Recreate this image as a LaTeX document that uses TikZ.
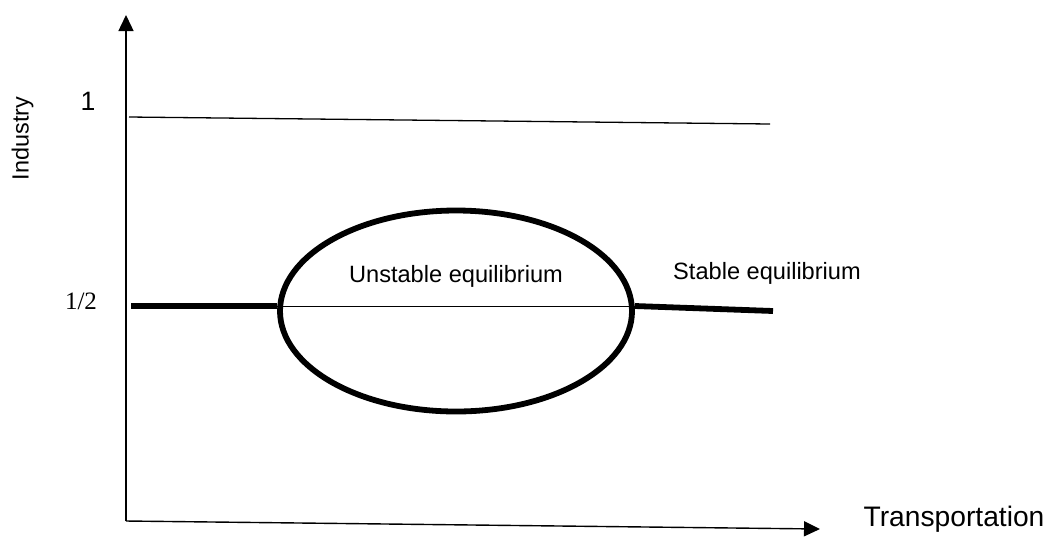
\documentclass[tikz,border=0pt]{standalone}
\usepackage{fontspec}
\setmainfont{Liberation Sans}
\newfontfamily\serifa{Liberation Serif}
\usetikzlibrary{shapes.geometric, arrows.meta, positioning}

\begin{document}
\begin{tikzpicture}[
    x=0.5pt, y=-0.5pt,
    line width=0.65pt,
    font=\fontsize{11.8}{14}\selectfont,
    eixo/.style={line width=0.7pt, -{Triangle[length=8pt, width=7.5pt]}},
    grossa/.style={line width=2.9pt},
    fina/.style={line width=0.5pt},
    rotulo/.style={inner sep=0pt, anchor=base}
]
    \useasboundingbox (0,0) rectangle (1052,542);

    \coordinate (origem) at (126,521);
    \coordinate (topo) at (126,15);
    \coordinate (fim) at (820,529);
    \coordinate (umA) at (129,117);
    \coordinate (umB) at (770,124);
    \coordinate (meioA) at (131,306);
    \coordinate (meioB) at (773,311);

    \node[draw, ellipse, grossa, inner sep=0pt, minimum width=176pt, minimum height=100.5pt] (laco) at (456,311) {};

    \draw[eixo] (origem) -- (topo);
    \draw[eixo] (origem) -- (fim);
    \draw (umA) -- (umB);

    \draw[grossa] (meioA) -- (laco.west |- meioA);
    \draw[fina] (laco.west |- meioA) -- (laco.east |- meioA);
    \draw[grossa] (laco.east |- meioA) -- (meioB);

    \node[rotulo, rotate=90, font=\fontsize{11.7}{14}\selectfont] (industria) at (28.5,138.5) {Industry};
    \node[rotulo, font=\fontsize{13.3}{15}\selectfont] (um) at (88,110) {1};
    \node[rotulo, font=\serifa\fontsize{12.5}{15}\selectfont] (meio) at (81,309) {1/2};
    \node[rotulo] (instavel) at (456,282) {Unstable equilibrium};
    \node[rotulo] (estavel) at (767,279) {Stable equilibrium};
    \node[rotulo, font=\fontsize{14.1}{16}\selectfont] (transporte) at (954,526) {Transportation};
\end{tikzpicture}
\end{document}
